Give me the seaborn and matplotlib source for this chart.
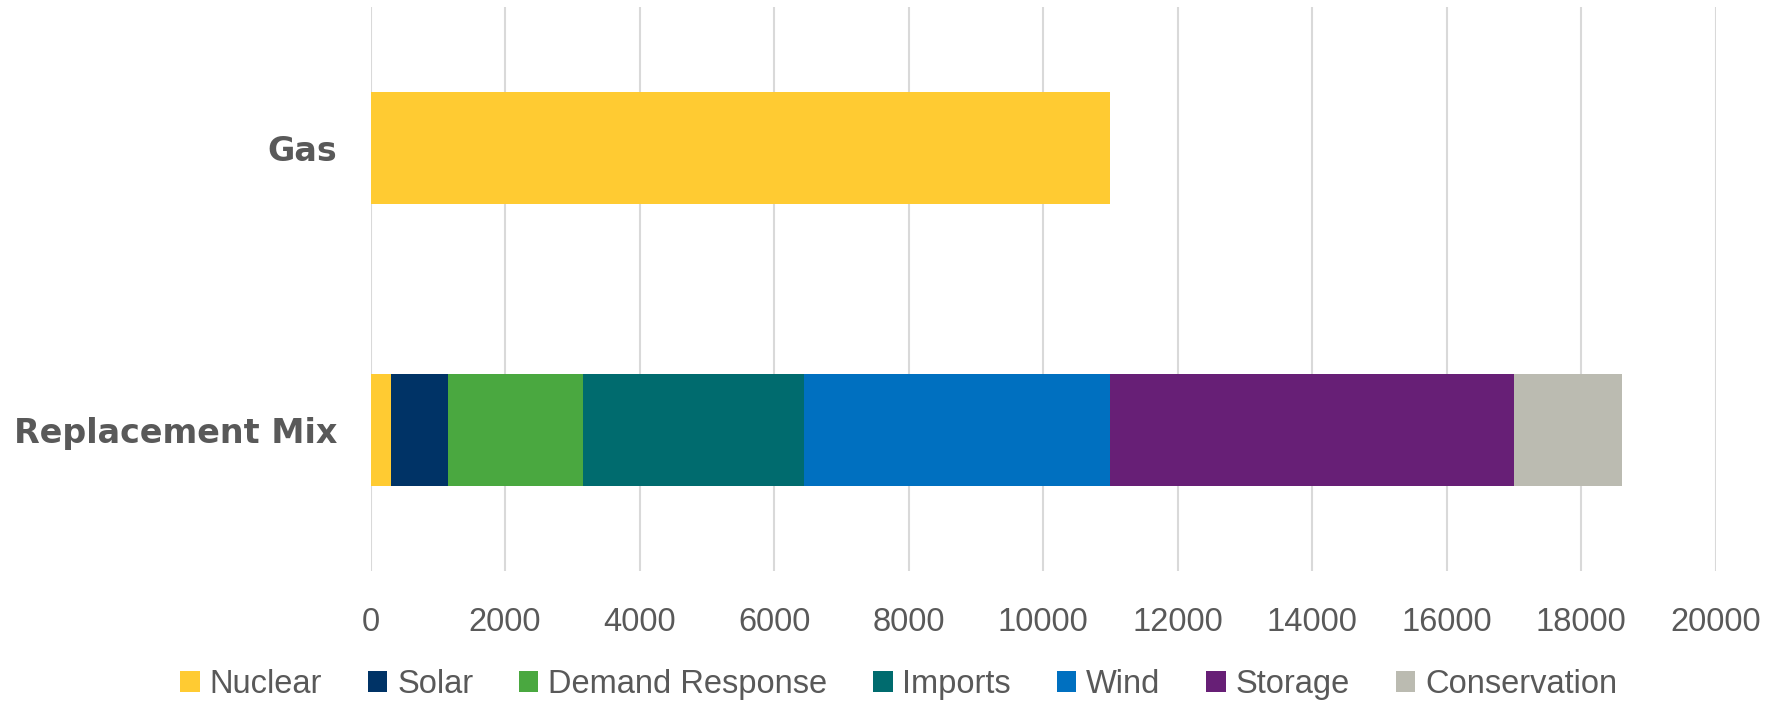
import seaborn as sns
import matplotlib.pyplot as plt
import numpy as np
from matplotlib.patches import Patch

# data
categories = ["Gas", "Replacement Mix"]
series = ["Nuclear", "Solar", "Demand Response", "Imports", "Wind", "Storage", "Conservation"]
nuclear = [11000, 305]
solar = [0, 845]
demand_response = [0, 2010]
imports = [0, 3290]
wind = [0, 4550]
storage = [0, 6000]
conservation = [0, 1600]
colors = ["#FFCB32", "#003366", "#4AA840", "#006B6E", "#0070C0", "#671F76", "#BBBBB1"]
xticks = list(range(0, 20001, 2000))

values = np.array([nuclear, solar, demand_response, imports, wind, storage, conservation])
cum = values.cumsum(axis=0)

sns.set_style("white")
plt.rcParams["font.family"] = ["Liberation Sans", "DejaVu Sans"]

fig = plt.figure(figsize=(17.83, 7.02), dpi=100)
ax = fig.add_axes([0.2078, 0.1866, 0.7545, 0.8034])

# stacked bars: draw running totals from the top down so each layer overlays the next
for i in range(len(series) - 1, -1, -1):
    sns.barplot(x=cum[i], y=categories, orient="h", color=colors[i], saturation=1,
                width=0.4, linewidth=0, ax=ax, zorder=3)

ax.set_xlim(0, 20000)
ax.set_ylim(1.5, -0.5)
ax.set_xticks(xticks)
ax.set_xticklabels([str(t) for t in xticks])
ax.set_xlabel("")
ax.set_ylabel("")
ax.grid(axis="x", color="#D9D9D9", linewidth=1.5, zorder=0)
ax.set_axisbelow(True)
for s in ax.spines.values():
    s.set_visible(False)
ax.tick_params(axis="x", length=0, pad=26, labelsize=23.5, labelcolor="#595959")
ax.tick_params(axis="y", length=0, pad=24, labelcolor="#595959")
for lab in ax.get_yticklabels():
    lab.set_fontfamily("DejaVu Sans")
    lab.set_fontweight("bold")
    lab.set_fontsize(24)

handles = [Patch(facecolor=c, edgecolor="none", label=s) for s, c in zip(series, colors)]
leg = fig.legend(handles=handles, loc="center", bbox_to_anchor=(0.504, 0.025), ncol=7,
                 frameon=False, fontsize=23.5, handlelength=0.6, handleheight=0.6,
                 handletextpad=0.3, columnspacing=1.4, borderaxespad=0)
for t in leg.get_texts():
    t.set_color("#595959")

fig.savefig("out.png", dpi=100)
